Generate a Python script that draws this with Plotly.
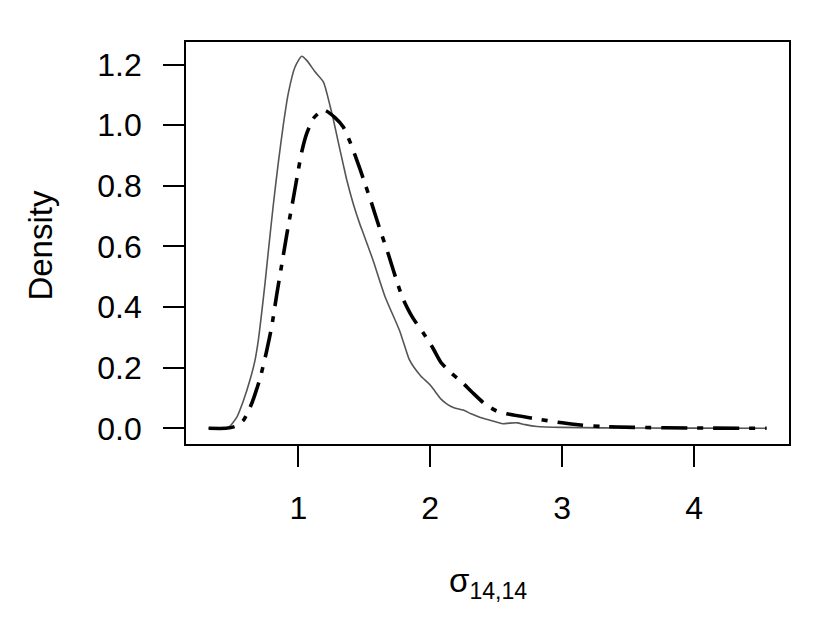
import plotly.graph_objects as go

# Solid grey density curve
grey_x = [0.32, 0.40, 0.469, 0.533, 0.583, 0.634, 0.672, 0.697, 0.722, 0.748, 0.773, 0.810, 0.848, 0.886,
          0.924, 0.975, 1.026, 1.064, 1.127, 1.19, 1.24, 1.265, 1.30, 1.341, 1.367, 1.417, 1.468, 1.493, 1.566,
          1.657, 1.768, 1.84, 1.874, 1.93, 2.00, 2.04, 2.08, 2.13, 2.18, 2.25, 2.31, 2.38, 2.46, 2.55,
          2.60, 2.66, 2.72, 2.81, 3.00, 3.30, 3.60, 4.00, 4.55]
grey_y = [0.0, 0.0005, 0.003, 0.036, 0.090, 0.16, 0.225, 0.291, 0.38, 0.48, 0.585, 0.735, 0.875, 1.0,
          1.105, 1.192, 1.2275, 1.214, 1.176, 1.143, 1.065, 1.02, 0.95, 0.87, 0.82, 0.74, 0.672, 0.643, 0.555,
          0.435, 0.322, 0.228, 0.203, 0.172, 0.143, 0.12, 0.097, 0.079, 0.068, 0.060, 0.048, 0.036, 0.026, 0.015,
          0.017, 0.018, 0.012, 0.006, 0.003, 0.0015, 0.001, 0.0005, 0.0]

# Dot-dash black density curve
dash_x = [0.32, 0.45, 0.52, 0.585, 0.647, 0.71, 0.76, 0.80, 0.836, 0.886, 0.924, 0.962, 1.0, 1.026,
          1.064, 1.114, 1.16, 1.202, 1.278, 1.341, 1.392, 1.43, 1.468, 1.493, 1.556, 1.619, 1.682, 1.758,
          1.796, 1.867, 1.95, 2.02, 2.08, 2.15, 2.25, 2.32, 2.42, 2.50, 2.58, 2.78, 3.00, 3.14, 3.30,
          3.54, 4.00, 4.55]
dash_y = [0.0, 0.0, 0.006, 0.027, 0.082, 0.165, 0.255, 0.34, 0.44, 0.57, 0.668, 0.758, 0.852, 0.912,
          0.973, 1.022, 1.042, 1.049, 1.025, 0.994, 0.945, 0.901, 0.855, 0.823, 0.742, 0.656, 0.575, 0.47,
          0.425, 0.365, 0.313, 0.265, 0.218, 0.186, 0.148, 0.118, 0.078, 0.058, 0.048, 0.033, 0.018, 0.011, 0.006,
          0.003, 0.001, 0.0]

x_ticks = [1, 2, 3, 4]
y_ticks = [0.0, 0.2, 0.4, 0.6, 0.8, 1.0, 1.2]

FONT = "Liberation Sans, Arial, Helvetica, sans-serif"

fig = go.Figure()
fig.add_trace(go.Scatter(x=grey_x, y=grey_y, mode="lines",
                         line=dict(color="#555555", width=1.6, shape="spline", smoothing=0.6),
                         showlegend=False, hoverinfo="skip"))
fig.add_trace(go.Scatter(x=dash_x, y=dash_y, mode="lines",
                         line=dict(color="black", width=3.6, dash="26px,10px,6px,10px",
                                   shape="spline", smoothing=0.6),
                         showlegend=False, hoverinfo="skip"))

# The page body has an 8px default margin, so the figure is shrunk by 8px and shifted accordingly
fig.update_layout(
    width=822, height=615,
    margin=dict(l=178, r=41, t=34, b=179),
    paper_bgcolor="white", plot_bgcolor="white",
    font=dict(family=FONT, size=32, color="black"),
    xaxis=dict(range=[0.1486, 4.72], tickvals=x_ticks, ticktext=[str(v) for v in x_ticks],
               ticks="outside", ticklen=21, tickwidth=1.5, tickcolor="black",
               showline=True, linecolor="black", linewidth=1.8, mirror=True,
               showgrid=False, zeroline=False, ticklabelstandoff=14),
    yaxis=dict(range=[-0.0518, 1.2745], tickvals=y_ticks, ticktext=["%.1f" % v for v in y_ticks],
               ticks="outside", ticklen=21, tickwidth=1.5, tickcolor="black",
               showline=True, linecolor="black", linewidth=1.8, mirror=True,
               showgrid=False, zeroline=False, ticklabelstandoff=15),
    annotations=[
        dict(text="σ<sub>14,14</sub>", xref="paper", yref="paper", x=0.5, y=-0.345,
             xanchor="center", yanchor="middle", showarrow=False,
             font=dict(family=FONT, size=33, color="black")),
        dict(text="Density", xref="paper", yref="paper", x=-0.2405, y=0.496,
             xanchor="center", yanchor="middle", textangle=-90, showarrow=False,
             font=dict(family=FONT, size=33, color="black")),
    ],
)

fig.write_html("out.html")
